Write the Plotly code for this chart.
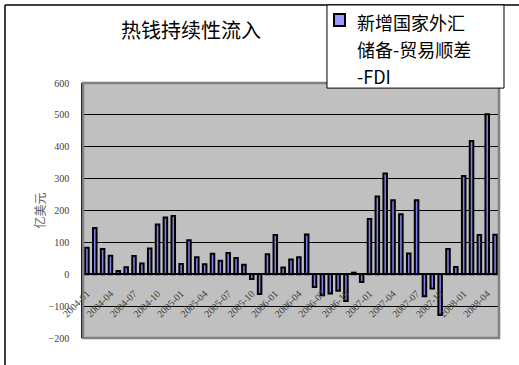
import plotly.graph_objects as go

# Monthly categories, 2004-01 .. 2008-05
months = [f"{y}-{m:02d}" for y in range(2004, 2009) for m in range(1, 13)][:53]

# 新增国家外汇储备 - 贸易顺差 - FDI (亿美元)
hot_money = [
    83, 145, 79, 58, 10, 22, 57, 34, 81, 156, 178, 183,
    32, 107, 53, 31, 64, 42, 67, 51, 30, -15, -62, 63,
    123, 21, 46, 53, 125, -40, -66, -60, -52, -84, 5, -24,
    173, 244, 316, 232, 188, 65, 232, -69, -45, -128, 79, 23,
    308, 418, 123, 502, 124,
]

tick_labels = months[::3]
y_ticks = [-200, -100, 0, 100, 200, 300, 400, 500, 600]

legend_lines = ["新增国家外汇", "储备-贸易顺差", "-FDI"]
title_text = "热钱持续性流入"
y_title = "亿美元"

cjk = "Noto Sans CJK SC"
serif = "Liberation Serif"
bar_fill = "#8080F0"

fig = go.Figure()
fig.add_trace(go.Bar(
    x=months,
    y=hot_money,
    name="".join(legend_lines),
    width=0.45,
    marker=dict(color=bar_fill, line=dict(color="#000000", width=2)),
    showlegend=False,
))

# Legend box drawn in paper coordinates (top-right, overlapping the plot corner)
leg_x0, leg_x1, leg_y0, leg_y1 = 0.5865, 1.012, 0.980, 1.306
key_x0, key_x1, key_y0, key_y1 = 0.6034, 0.6298, 1.2235, 1.2706
text_x = 0.6538
line_ys = [1.2392, 1.1333, 1.0275]

annotations = [
    dict(text=t, x=text_x, y=yy, xref="paper", yref="paper",
         xanchor="left", yanchor="middle", showarrow=False,
         font=dict(family=cjk, size=18, color="#000000"))
    for t, yy in zip(legend_lines, line_ys)
]

fig.update_layout(
    width=519,
    height=365,
    margin=dict(l=83, r=20, t=83, b=27),
    paper_bgcolor="white",
    plot_bgcolor="#C0C0C0",
    title=dict(
        text=title_text,
        x=0.368, xref="container", xanchor="center",
        y=0.915, yref="container", yanchor="middle",
        font=dict(family=cjk, size=20, color="#000000"),
    ),
    showlegend=False,
    annotations=annotations,
    xaxis=dict(
        type="category",
        range=[-0.5, 52.5],
        anchor="free",
        position=0.25,
        showline=True, linecolor="#000000", linewidth=1.5,
        showgrid=False,
        tickmode="array",
        tickvals=tick_labels,
        ticktext=tick_labels,
        tickangle=-45,
        ticks="outside", ticklen=9, tickcolor="rgba(0,0,0,0)",
        tickfont=dict(family=serif, size=10, color="#404040"),
    ),
    yaxis=dict(
        range=[-200, 600],
        tickmode="array",
        tickvals=y_ticks,
        showgrid=True, gridcolor="#000000", gridwidth=1,
        zeroline=True, zerolinecolor="#000000", zerolinewidth=1.5,
        showline=True, linecolor="#000000", linewidth=1.5,
        ticks="outside", ticklen=10, tickcolor="rgba(0,0,0,0)",
        tickfont=dict(family=serif, size=10, color="#404040"),
        title=dict(text=y_title, standoff=0,
                   font=dict(family=cjk, size=12, color="#606060")),
    ),
    shapes=[
        # plot-area border
        dict(type="rect", xref="paper", yref="paper", x0=0, x1=1, y0=0, y1=1,
             line=dict(color="#808080", width=2.5), layer="above"),
        # outer chart frame
        dict(type="line", xref="paper", yref="paper",
             x0=-0.1875, x1=1.05, y0=1.306, y1=1.306,
             line=dict(color="#000000", width=1.5)),
        dict(type="line", xref="paper", yref="paper",
             x0=-0.1875, x1=-0.1875, y0=1.306, y1=-0.12,
             line=dict(color="#000000", width=1.5)),
        # legend box and key
        dict(type="rect", xref="paper", yref="paper",
             x0=leg_x0, x1=leg_x1, y0=leg_y0, y1=leg_y1,
             fillcolor="white", line=dict(color="#000000", width=1), layer="above"),
        dict(type="rect", xref="paper", yref="paper",
             x0=key_x0, x1=key_x1, y0=key_y0, y1=key_y1,
             fillcolor="#9999FF", line=dict(color="#000000", width=2), layer="above"),
    ],
)

fig.write_html("out.html")
